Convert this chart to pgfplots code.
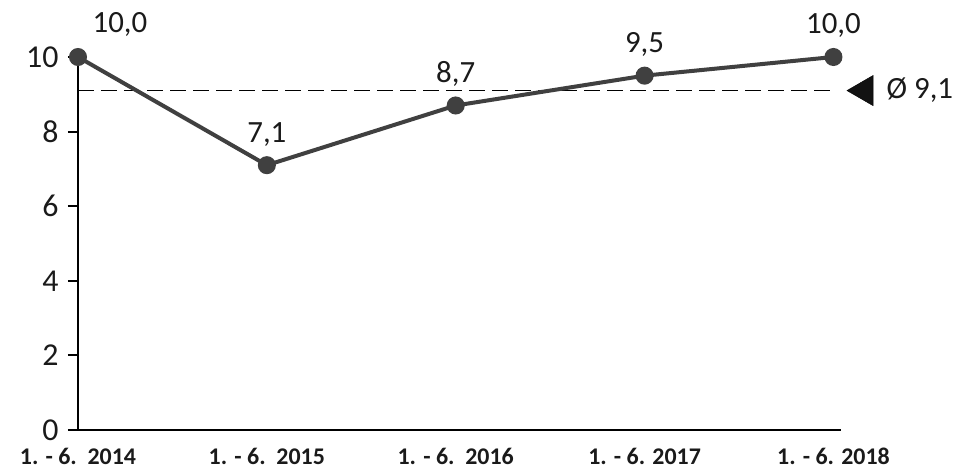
\documentclass[border=0pt]{standalone}
\usepackage{fontspec}
\setmainfont{Carlito}
\usepackage{pgfplots}
\pgfplotsset{compat=1.18}
\definecolor{lc}{HTML}{404040}
\definecolor{tc}{HTML}{1A1A1A}
\begin{document}
\begin{tikzpicture}
\path[use as bounding box] (-78bp,-39bp) rectangle (883bp,430bp);
\begin{axis}[
  scale only axis, width=763bp, height=373bp,
  xmin=0, xmax=4.04, ymin=0, ymax=10,
  axis x line*=bottom, axis y line*=left,
  axis line style={black, line width=2bp},
  clip=false,
  xtick={0,1,2,3,4},
  xticklabels={{1. - 6.\ \ 2014},{1. - 6.\ \ 2015},{1. - 6.\ \ 2016},{1. - 6. 2017},{1. - 6. 2018}},
  x tick style={draw=none},
  xticklabel style={font=\bfseries\fontsize{24}{24}\selectfont, color=tc, inner sep=0pt, yshift=-8bp},
  ytick={0,2,4,6,8,10},
  tick align=outside,
  major tick length=10bp,
  y tick style={black, line width=2bp},
  yticklabel style={font=\fontsize{32}{32}\selectfont, color=tc, xshift=-6bp},
  /pgf/number format/assume math mode=true,
]
% average line
\addplot[black, line width=1.5bp, dash pattern=on 16bp off 7bp] coordinates {(0,9.1) (4.0,9.1)};
% main series
\addplot[lc, line width=4bp, mark=*, mark size=7bp, mark options={fill=lc, draw=lc}] coordinates {(0,10) (1,7.1) (2,8.7) (3,9.5) (4,10)};
% labels
\addplot[draw=none, point meta=explicit symbolic,
  nodes near coords, nodes near coords style={anchor=base, yshift=23bp, font=\fontsize{31}{31}\selectfont, color=tc, inner sep=0pt}]
  coordinates {(1,7.1) [7,1] (2,8.7) [8,7] (3,9.5) [9,5] (4,10) [10,0]};
\addplot[draw=none, point meta=explicit symbolic,
  nodes near coords, nodes near coords style={anchor=base, yshift=24bp, xshift=42bp, font=\fontsize{31}{31}\selectfont, color=tc, inner sep=0pt}]
  coordinates {(0,10) [10,0]};
% average marker
\addplot[only marks, mark=triangle*, mark size=17.5bp, mark options={rotate=90, fill=black!93, draw=none},
  point meta=explicit symbolic,
  nodes near coords, nodes near coords style={anchor=west, xshift=22bp, font=\fontsize{31}{31}\selectfont, color=tc, inner sep=0pt}]
  coordinates {(4.164,9.1) [Ø 9,1]};
\end{axis}
\end{tikzpicture}
\end{document}
